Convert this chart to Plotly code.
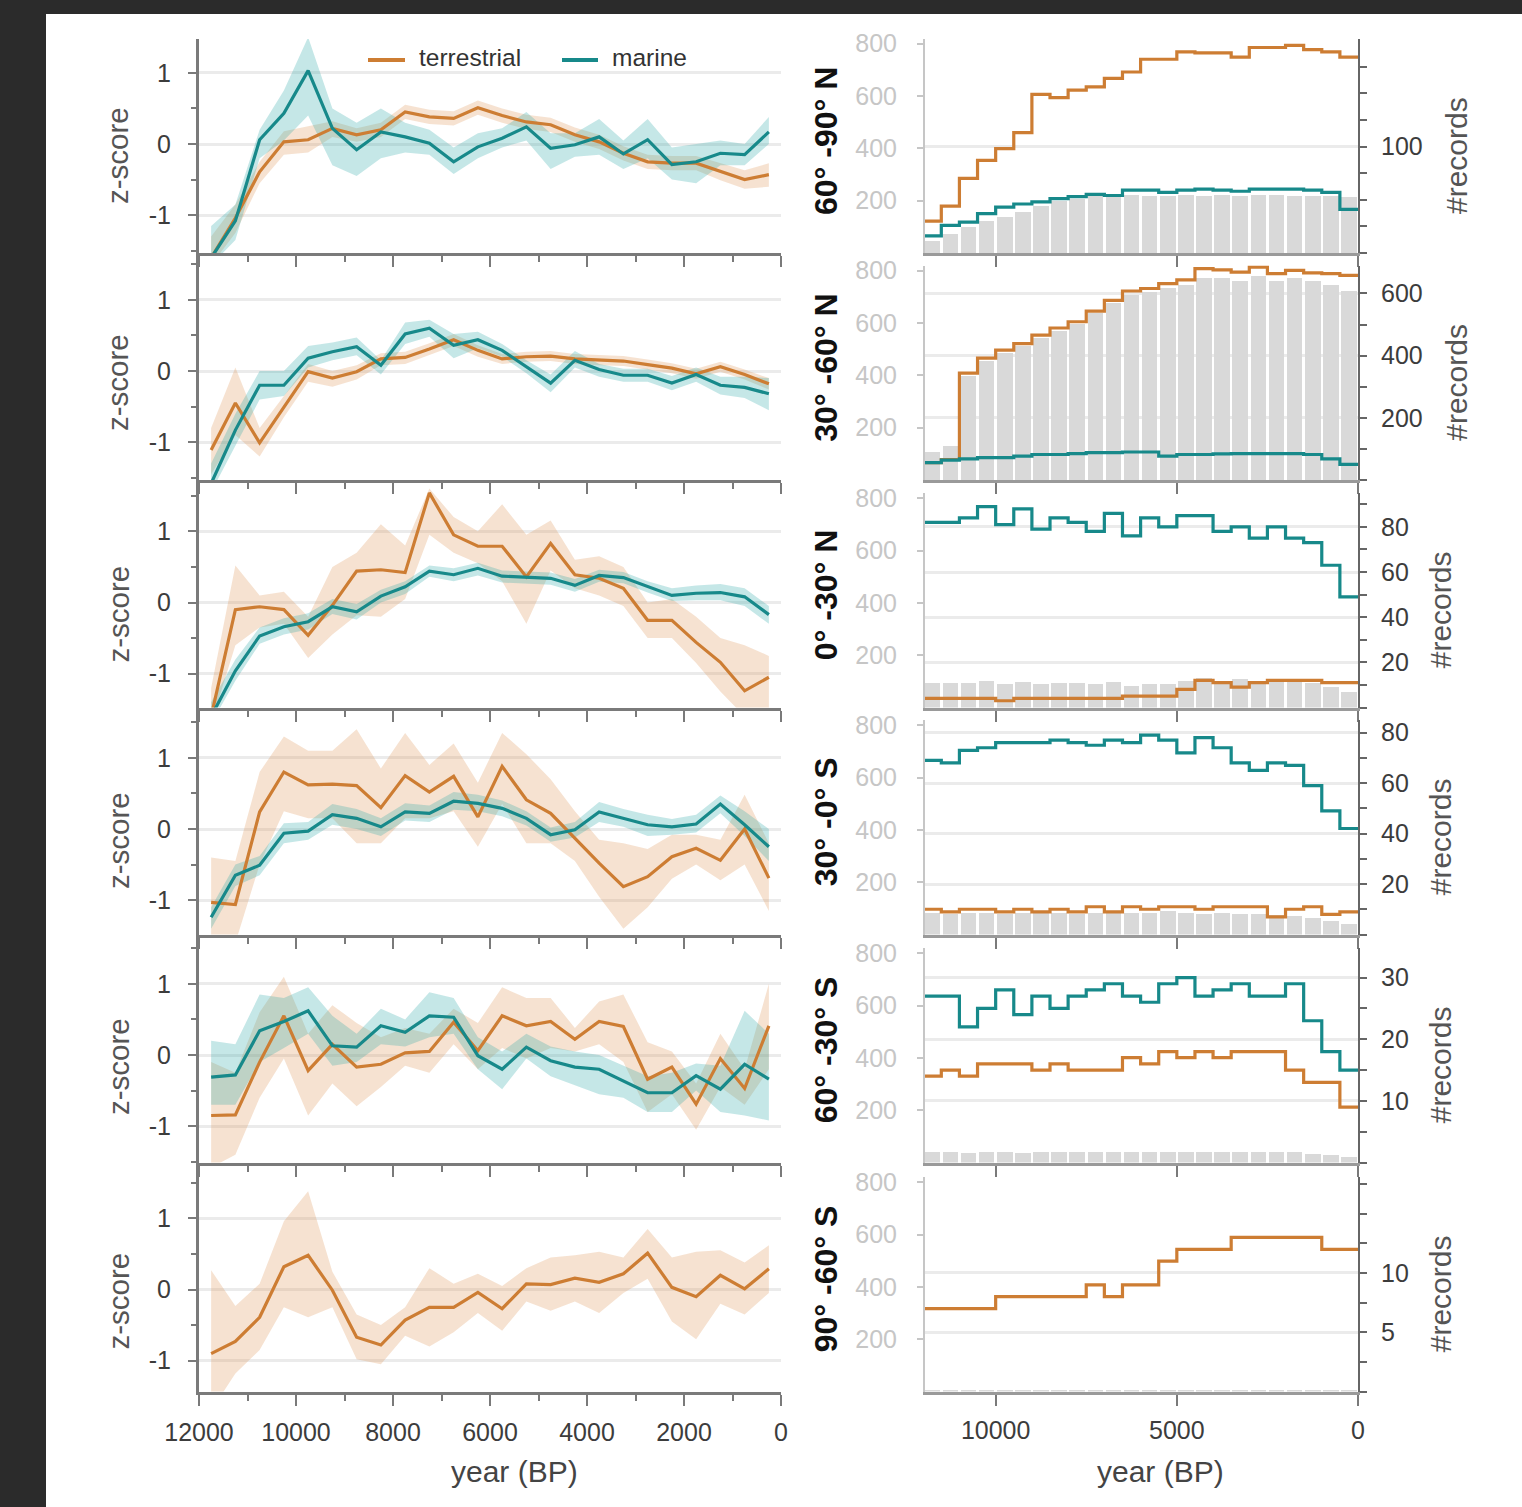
import plotly.graph_objects as go

W, H = 1522, 1507
FONT = "Liberation Sans, Arial, Helvetica, sans-serif"

# ---------------- data ----------------
bin_centers = [11750, 11250, 10750, 10250, 9750, 9250, 8750, 8250, 7750, 7250, 6750, 6250,
               5750, 5250, 4750, 4250, 3750, 3250, 2750, 2250, 1750, 1250, 750, 250]
bin_edges = [12000, 11500, 11000, 10500, 10000, 9500, 9000, 8500, 8000, 7500, 7000, 6500,
             6000, 5500, 5000, 4500, 4000, 3500, 3000, 2500, 2000, 1500, 1000, 500, 0]

region_labels = ["60° -90° N", "30° -60° N", "0° -30° N", "30° -0° S", "60° -30° S", "90° -60° S"]
series_names = ["terrestrial", "marine"]

left_xticks = [12000, 10000, 8000, 6000, 4000, 2000, 0]
left_xminor = [11000, 9000, 7000, 5000, 3000, 1000]
z_ticks = [-1, 0, 1]
z_minor = [-1.5, -0.5, 0.5, 1.5]
right_xticks = [10000, 5000, 0]
bar_axis_ticks = [200, 400, 600, 800]
count_ticks = [[100], [200, 400, 600], [20, 40, 60, 80], [20, 40, 60, 80], [10, 20, 30], [5, 10]]
count_minor = [[0, 25, 50, 75, 125, 150, 175], [0, 100, 300, 500], [0, 10, 30, 50, 70, 90],
               [0, 10, 30, 50, 70], [0, 5, 15, 25], [0, 2.5, 7.5, 12.5, 15, 17.5]]
count_max = [201, 690, 95, 85, 34.8, 18.1]

# z-scores (terrestrial = t, marine = m), with band limits
t1 = [-1.60, -1.04, -0.39, 0.03, 0.06, 0.22, 0.13, 0.20, 0.45, 0.38, 0.36, 0.51, 0.40, 0.31, 0.27, 0.13, 0.03, -0.13, -0.25, -0.27, -0.27, -0.39, -0.50, -0.43]
t1_hi = [-1.30, -0.85, -0.25, 0.18, 0.25, 0.32, 0.22, 0.30, 0.55, 0.48, 0.46, 0.61, 0.50, 0.41, 0.37, 0.23, 0.13, -0.03, -0.15, -0.17, -0.17, -0.27, -0.37, -0.27]
t1_lo = [-1.70, -1.25, -0.55, -0.15, -0.12, 0.10, 0.03, 0.10, 0.35, 0.28, 0.26, 0.41, 0.30, 0.21, 0.17, 0.03, -0.07, -0.23, -0.35, -0.37, -0.37, -0.51, -0.63, -0.60]
m1 = [-1.60, -1.08, 0.06, 0.43, 1.03, 0.22, -0.08, 0.17, 0.10, 0.01, -0.25, -0.04, 0.08, 0.24, -0.06, -0.01, 0.10, -0.14, 0.06, -0.29, -0.25, -0.13, -0.15, 0.17]
m1_hi = [-1.15, -0.85, 0.20, 0.75, 1.50, 0.50, 0.30, 0.50, 0.30, 0.20, -0.05, 0.15, 0.22, 0.45, 0.15, 0.15, 0.35, 0.05, 0.35, -0.05, 0.00, 0.05, 0.00, 0.38]
m1_lo = [-1.70, -1.35, -0.20, 0.05, 0.40, -0.30, -0.45, -0.20, -0.12, -0.15, -0.42, -0.20, -0.05, 0.05, -0.35, -0.18, -0.15, -0.35, -0.20, -0.50, -0.55, -0.30, -0.30, 0.00]

t2 = [-1.11, -0.45, -1.01, -0.50, -0.01, -0.10, -0.01, 0.17, 0.19, 0.31, 0.44, 0.29, 0.17, 0.20, 0.21, 0.17, 0.15, 0.14, 0.09, 0.04, -0.04, 0.06, -0.05, -0.18]
t2_hi = [-0.80, 0.05, -0.80, -0.35, 0.10, 0.00, 0.08, 0.25, 0.27, 0.39, 0.52, 0.36, 0.24, 0.27, 0.28, 0.24, 0.22, 0.21, 0.16, 0.11, 0.03, 0.13, 0.02, -0.10]
t2_lo = [-1.45, -0.90, -1.20, -0.65, -0.15, -0.22, -0.12, 0.08, 0.10, 0.22, 0.35, 0.20, 0.10, 0.13, 0.14, 0.10, 0.08, 0.07, 0.02, -0.03, -0.11, -0.01, -0.12, -0.26]
m2 = [-1.58, -0.83, -0.20, -0.20, 0.18, 0.27, 0.34, 0.08, 0.52, 0.60, 0.36, 0.44, 0.29, 0.06, -0.17, 0.15, 0.02, -0.06, -0.06, -0.17, -0.05, -0.20, -0.23, -0.32]
m2_hi = [-1.30, -0.60, 0.00, 0.00, 0.35, 0.40, 0.47, 0.15, 0.68, 0.72, 0.52, 0.55, 0.38, 0.15, -0.05, 0.28, 0.10, 0.03, 0.03, -0.07, 0.05, -0.08, -0.08, -0.10]
m2_lo = [-1.70, -1.05, -0.40, -0.35, 0.05, 0.15, 0.22, -0.05, 0.38, 0.48, 0.18, 0.32, 0.20, -0.03, -0.30, 0.05, -0.08, -0.15, -0.15, -0.27, -0.15, -0.33, -0.38, -0.55]

t3 = [-1.60, -0.10, -0.06, -0.10, -0.46, -0.04, 0.44, 0.46, 0.42, 1.54, 0.95, 0.79, 0.79, 0.36, 0.83, 0.39, 0.34, 0.20, -0.25, -0.25, -0.56, -0.84, -1.24, -1.05]
t3_hi = [-1.20, 0.52, 0.10, 0.15, -0.20, 0.50, 0.70, 1.10, 0.80, 1.60, 1.20, 1.00, 1.38, 0.95, 1.15, 0.60, 0.65, 0.50, 0.00, 0.05, -0.20, -0.50, -0.60, -0.75]
t3_lo = [-1.70, -0.60, -0.35, -0.30, -0.78, -0.45, -0.18, -0.20, 0.05, 0.95, 0.70, 0.55, 0.30, -0.30, 0.45, 0.20, 0.10, -0.05, -0.50, -0.50, -0.85, -1.25, -1.60, -1.50]
m3 = [-1.60, -0.96, -0.47, -0.34, -0.27, -0.06, -0.13, 0.09, 0.22, 0.44, 0.39, 0.48, 0.37, 0.36, 0.34, 0.24, 0.38, 0.35, 0.22, 0.10, 0.13, 0.14, 0.08, -0.17]
m3_hi = [-1.40, -0.80, -0.35, -0.22, -0.15, 0.05, -0.02, 0.18, 0.30, 0.52, 0.48, 0.56, 0.45, 0.44, 0.42, 0.33, 0.46, 0.43, 0.30, 0.20, 0.24, 0.26, 0.20, -0.05]
m3_lo = [-1.70, -1.10, -0.58, -0.45, -0.38, -0.16, -0.24, 0.00, 0.12, 0.36, 0.30, 0.38, 0.28, 0.27, 0.25, 0.15, 0.29, 0.27, 0.14, 0.02, 0.03, 0.03, -0.05, -0.30]

t4 = [-1.03, -1.06, 0.24, 0.80, 0.62, 0.63, 0.61, 0.30, 0.75, 0.52, 0.74, 0.17, 0.88, 0.41, 0.22, -0.13, -0.48, -0.81, -0.67, -0.39, -0.27, -0.44, 0.00, -0.69]
t4_hi = [-0.40, -0.45, 0.80, 1.30, 1.10, 1.10, 1.40, 0.85, 1.35, 0.90, 1.20, 0.65, 1.35, 1.05, 0.70, 0.25, -0.15, -0.20, -0.28, -0.08, -0.08, -0.15, 0.48, -0.20]
t4_lo = [-1.60, -1.60, -0.50, 0.25, 0.15, 0.15, -0.20, -0.20, 0.15, 0.15, 0.25, -0.25, 0.35, -0.20, -0.20, -0.45, -0.95, -1.40, -1.10, -0.70, -0.50, -0.72, -0.50, -1.15]
m4 = [-1.24, -0.65, -0.51, -0.06, -0.03, 0.20, 0.15, 0.03, 0.24, 0.22, 0.39, 0.36, 0.29, 0.15, -0.08, -0.01, 0.24, 0.15, 0.06, 0.03, 0.07, 0.35, 0.06, -0.25]
m4_hi = [-1.10, -0.50, -0.38, 0.08, 0.10, 0.35, 0.28, 0.15, 0.36, 0.33, 0.52, 0.48, 0.40, 0.25, 0.02, 0.10, 0.38, 0.28, 0.20, 0.14, 0.20, 0.47, 0.25, 0.00]
m4_lo = [-1.40, -0.80, -0.65, -0.20, -0.15, 0.06, 0.00, -0.10, 0.12, 0.10, 0.27, 0.25, 0.18, 0.05, -0.18, -0.12, 0.10, 0.03, -0.10, -0.08, -0.05, 0.22, -0.10, -0.45]

t5 = [-0.85, -0.84, -0.10, 0.55, -0.22, 0.15, -0.17, -0.13, 0.03, 0.05, 0.46, 0.06, 0.55, 0.41, 0.47, 0.22, 0.47, 0.40, -0.34, -0.17, -0.69, -0.05, -0.47, 0.41]
t5_hi = [-0.10, -0.25, 0.60, 1.10, 0.30, 0.70, 0.45, 0.25, 0.38, 0.30, 0.65, 0.45, 0.95, 0.80, 0.80, 0.38, 0.75, 0.85, 0.18, 0.05, -0.40, 0.30, -0.20, 1.00]
t5_lo = [-1.58, -1.40, -0.60, -0.05, -0.85, -0.40, -0.72, -0.45, -0.15, -0.25, 0.15, -0.20, 0.10, -0.05, 0.10, 0.05, 0.15, -0.10, -0.80, -0.55, -1.05, -0.45, -0.70, -0.20]
m5 = [-0.31, -0.28, 0.34, 0.47, 0.62, 0.13, 0.11, 0.41, 0.32, 0.55, 0.53, -0.01, -0.20, 0.11, -0.08, -0.17, -0.20, -0.36, -0.53, -0.53, -0.29, -0.48, -0.13, -0.34]
m5_hi = [0.20, 0.15, 0.85, 0.80, 0.95, 0.55, 0.30, 0.65, 0.50, 0.88, 0.80, 0.25, 0.05, 0.30, 0.12, 0.05, 0.00, -0.15, -0.30, -0.25, -0.12, -0.15, 0.62, 0.30]
m5_lo = [-0.70, -0.70, -0.10, 0.10, 0.30, -0.15, -0.10, 0.15, 0.12, 0.25, 0.30, -0.20, -0.48, -0.05, -0.30, -0.42, -0.55, -0.60, -0.80, -0.80, -0.50, -0.80, -0.85, -0.92]

t6 = [-0.90, -0.73, -0.39, 0.32, 0.48, -0.01, -0.67, -0.78, -0.43, -0.25, -0.25, -0.04, -0.27, 0.08, 0.07, 0.16, 0.10, 0.22, 0.51, 0.03, -0.10, 0.20, 0.01, 0.29]
t6_hi = [0.27, -0.23, 0.08, 0.96, 1.38, 0.25, -0.35, -0.50, -0.25, 0.30, 0.08, 0.22, 0.05, 0.30, 0.45, 0.48, 0.53, 0.45, 0.85, 0.45, 0.53, 0.55, 0.38, 0.62]
t6_lo = [-1.70, -1.18, -0.85, -0.25, -0.39, -0.25, -0.98, -1.05, -0.65, -0.80, -0.60, -0.33, -0.58, -0.17, -0.30, -0.17, -0.33, -0.05, 0.15, -0.45, -0.70, -0.20, -0.35, -0.05]

# record counts per 500-yr bin: bars (left axis), terrestrial / marine (right axis)
r1_bars = [47, 73, 98, 124, 136, 156, 181, 200, 206, 219, 219, 221, 219, 219, 221, 219, 221, 219, 221, 221, 219, 219, 217, 215]
r1_terr = [30, 44, 70, 87, 98, 113, 149, 146, 153, 156, 164, 170, 182, 182, 189, 188, 188, 184, 193, 193, 195, 191, 189, 184]
r1_mar = [16, 26, 29, 37, 43, 46, 48, 51, 53, 55, 54, 59, 59, 57, 59, 60, 59, 58, 60, 60, 60, 59, 57, 41]

r2_bars = [110, 130, 398, 455, 487, 513, 545, 570, 600, 641, 679, 711, 721, 736, 749, 775, 775, 762, 781, 762, 775, 762, 749, 723]
r2_terr = [56, 66, 344, 392, 418, 439, 466, 489, 509, 543, 578, 608, 616, 632, 644, 680, 676, 669, 685, 664, 674, 666, 664, 658]
r2_mar = [56, 64, 68, 72, 72, 77, 82, 82, 85, 88, 88, 90, 90, 77, 82, 82, 84, 85, 85, 85, 85, 82, 68, 50]

r3_bars = [94, 94, 94, 103, 90, 96, 90, 94, 94, 90, 96, 84, 90, 90, 103, 112, 103, 109, 103, 103, 103, 94, 77, 58]
r3_terr = [4, 4, 4, 4, 3, 4, 4, 4, 4, 4, 4, 5, 5, 5, 8, 12, 11, 9, 11, 12, 12, 12, 11, 11]
r3_mar = [82, 82, 84, 89, 81, 88, 79, 84, 82, 78, 86, 76, 84, 80, 85, 85, 78, 80, 75, 80, 75, 73, 63, 49]

r4_bars = [84, 80, 84, 84, 80, 84, 84, 84, 80, 84, 88, 84, 84, 88, 84, 80, 84, 80, 78, 74, 72, 62, 50, 40]
r4_terr = [10, 9, 10, 10, 9, 10, 9, 10, 9, 11, 9, 11, 10, 11, 11, 10, 11, 11, 11, 7, 10, 11, 8, 9]
r4_mar = [69, 68, 73, 74, 76, 76, 76, 77, 76, 75, 77, 76, 79, 77, 72, 78, 74, 68, 65, 68, 67, 59, 49, 42]

r5_bars = [40, 40, 36, 40, 42, 38, 40, 40, 40, 40, 42, 40, 40, 42, 40, 40, 40, 40, 40, 40, 40, 32, 28, 22]
r5_terr = [14, 15, 14, 16, 16, 16, 15, 16, 15, 15, 15, 17, 16, 18, 17, 18, 17, 18, 18, 18, 15, 13, 13, 9]
r5_mar = [27, 27, 22, 25, 28, 24, 27, 25, 27, 28, 29, 27, 26, 29, 30, 27, 28, 29, 27, 27, 29, 23, 18, 15]

r6_bars = [6, 6, 6, 6, 6, 6, 6, 6, 6, 6, 6, 6, 6, 6, 6, 6, 6, 6, 6, 6, 6, 6, 5, 5]
r6_terr = [7, 7, 7, 7, 8, 8, 8, 8, 8, 9, 8, 9, 9, 11, 12, 12, 12, 13, 13, 13, 13, 13, 12, 12]

# ---------------- styling / geometry ----------------
ORANGE = "#cd7d33"
TEAL = "#17898a"
ORANGE_FILL = "rgba(222,150,90,0.28)"
TEAL_FILL = "rgba(40,165,165,0.27)"
BAR = "#d9d9d9"
GRID = "#ebebeb"
AX = "#7a7a7a"
TXT = "#3c3c3c"
LIGHT = "#c6c6c6"

L_X0, L_X1 = 199, 781
R_X0, R_X1 = 925, 1358
bottoms = [253, 480, 707.5, 934.5, 1162.5, 1391.5]
left_tops = [39, 253, 480, 707.5, 934.5, 1162.5]
zeros = [144, 371, 602.5, 829, 1055, 1289.5]
UNIT = 71.2
right_tops = [39, 265.5, 493, 720, 948, 1177]
BAR_PX = 0.2616

left_sets = [
    (t1, t1_lo, t1_hi, m1, m1_lo, m1_hi),
    (t2, t2_lo, t2_hi, m2, m2_lo, m2_hi),
    (t3, t3_lo, t3_hi, m3, m3_lo, m3_hi),
    (t4, t4_lo, t4_hi, m4, m4_lo, m4_hi),
    (t5, t5_lo, t5_hi, m5, m5_lo, m5_hi),
    (t6, t6_lo, t6_hi, None, None, None),
]
right_sets = [
    (r1_bars, r1_terr, r1_mar),
    (r2_bars, r2_terr, r2_mar),
    (r3_bars, r3_terr, r3_mar),
    (r4_bars, r4_terr, r4_mar),
    (r5_bars, r5_terr, r5_mar),
    (r6_bars, r6_terr, None),
]


def fx(px):
    return px / W


def fy(py):
    return 1 - py / H


fig = go.Figure()

for k in range(6):
    n = k + 1
    xl, yl = f"x{n}", f"y{n}"
    xr, ybar, ycnt = f"x{n + 6}", f"y{n + 6}", f"y{n + 12}"
    t, tlo, thi, m, mlo, mhi = left_sets[k]
    band_x = bin_centers + bin_centers[::-1]
    fig.add_trace(go.Scatter(x=band_x, y=thi + tlo[::-1], fill="toself", fillcolor=ORANGE_FILL,
                             mode="lines", line=dict(width=0), xaxis=xl, yaxis=yl,
                             hoverinfo="skip", showlegend=False))
    if m is not None:
        fig.add_trace(go.Scatter(x=band_x, y=mhi + mlo[::-1], fill="toself", fillcolor=TEAL_FILL,
                                 mode="lines", line=dict(width=0), xaxis=xl, yaxis=yl,
                                 hoverinfo="skip", showlegend=False))
    fig.add_trace(go.Scatter(x=bin_centers, y=t, mode="lines", name=series_names[0],
                             line=dict(color=ORANGE, width=3.2), xaxis=xl, yaxis=yl, showlegend=False))
    if m is not None:
        fig.add_trace(go.Scatter(x=bin_centers, y=m, mode="lines", name=series_names[1],
                                 line=dict(color=TEAL, width=3.2), xaxis=xl, yaxis=yl, showlegend=False))

    bars, terr, mar = right_sets[k]
    fig.add_trace(go.Bar(x=bin_centers, y=bars, width=430, marker=dict(color=BAR, line=dict(width=0)),
                         xaxis=xr, yaxis=ybar, showlegend=False, name="records"))
    fig.add_trace(go.Scatter(x=bin_edges, y=terr + [terr[-1]], mode="lines", name=series_names[0],
                             line=dict(color=ORANGE, width=3.2, shape="hv"), xaxis=xr, yaxis=ycnt,
                             showlegend=False))
    if mar is not None:
        fig.add_trace(go.Scatter(x=bin_edges, y=mar + [mar[-1]], mode="lines", name=series_names[1],
                                 line=dict(color=TEAL, width=3.2, shape="hv"), xaxis=xr, yaxis=ycnt,
                                 showlegend=False))

layout = {}
for k in range(6):
    n = k + 1
    s = "" if n == 1 else str(n)
    top, bot = left_tops[k], bottoms[k]
    zmin = -(bot - zeros[k]) / UNIT
    zmax = (zeros[k] - top) / UNIT
    layout[f"xaxis{s}"] = dict(
        domain=[fx(L_X0), fx(L_X1)], range=[12000, 0], anchor=f"y{n}", automargin=False,
        showline=True, linecolor=AX, linewidth=3, ticks="outside", tickmode="array",
        tickvals=left_xticks, ticktext=[str(v) for v in left_xticks],
        ticklen=11, tickwidth=2, tickcolor=AX,
        minor=dict(tickmode="array", tickvals=left_xminor, ticks="outside", ticklen=6,
                   tickwidth=2, tickcolor=AX, showgrid=False),
        showticklabels=(k == 5), tickfont=dict(family=FONT, size=25, color=TXT),
        ticklabelstandoff=5, showgrid=False, zeroline=False, fixedrange=True)
    layout[f"yaxis{s}"] = dict(
        domain=[fy(bot), fy(top)], range=[zmin, zmax], anchor=f"x{n}", automargin=False,
        showline=True, linecolor=AX, linewidth=3, ticks="outside", tickmode="array",
        tickvals=z_ticks, ticktext=[str(v) for v in z_ticks], ticklen=8, tickwidth=2, tickcolor=AX,
        minor=dict(tickmode="array", tickvals=z_minor, ticks="outside", ticklen=5,
                   tickwidth=2, tickcolor=AX, showgrid=False),
        showgrid=True, gridcolor=GRID, gridwidth=2.5, zeroline=False,
        tickfont=dict(family=FONT, size=25, color=TXT), ticklabelstandoff=12, fixedrange=True)

    # right column
    rtop = right_tops[k]
    nb = n + 6
    nc = n + 12
    layout[f"xaxis{nb}"] = dict(
        domain=[fx(R_X0), fx(R_X1)], range=[11950, 0], anchor=f"y{nb}", automargin=False,
        showline=True, linecolor="#9a9a9a", linewidth=3, ticks="outside", tickmode="array",
        tickvals=right_xticks, ticktext=[str(v) for v in right_xticks],
        ticklen=11, tickwidth=2, tickcolor=AX,
        showticklabels=(k == 5), tickfont=dict(family=FONT, size=25, color=TXT),
        ticklabelstandoff=3, showgrid=False, zeroline=False, fixedrange=True)
    layout[f"yaxis{nb}"] = dict(
        domain=[fy(bot), fy(rtop)], range=[0, (bot - rtop) / BAR_PX], anchor=f"x{nb}", automargin=False,
        showline=True, linecolor=LIGHT, linewidth=2, ticks="outside", tickmode="array",
        tickvals=bar_axis_ticks, ticktext=[str(v) for v in bar_axis_ticks],
        ticklen=6, tickwidth=2, tickcolor=LIGHT,
        showgrid=False, zeroline=False, tickfont=dict(family=FONT, size=25, color=LIGHT),
        ticklabelstandoff=15, fixedrange=True)
    layout[f"yaxis{nc}"] = dict(
        overlaying=f"y{nb}", side="right", anchor=f"x{nb}", range=[0, count_max[k]], automargin=False,
        showline=True, linecolor="#666666", linewidth=2, ticks="outside", tickmode="array",
        tickvals=count_ticks[k], ticktext=[str(v) for v in count_ticks[k]],
        ticklen=7, tickwidth=2, tickcolor="#666666",
        minor=dict(tickmode="array", tickvals=count_minor[k], ticks="outside", ticklen=7,
                   tickwidth=2, tickcolor="#666666", showgrid=False),
        showgrid=True, gridcolor=GRID, gridwidth=2.5, zeroline=False,
        tickfont=dict(family=FONT, size=25, color=TXT), ticklabelstandoff=9, fixedrange=True)

annotations = []
shapes = [dict(type="rect", xref="paper", yref="paper", x0=fx(46), x1=1, y0=0, y1=fy(14),
               fillcolor="white", line=dict(width=0), layer="below")]

# legend
shapes.append(dict(type="line", xref="paper", yref="paper", x0=fx(368), x1=fx(405), y0=fy(60), y1=fy(60),
                   line=dict(color=ORANGE, width=4)))
shapes.append(dict(type="line", xref="paper", yref="paper", x0=fx(562), x1=fx(598), y0=fy(60), y1=fy(60),
                   line=dict(color=TEAL, width=4)))
annotations.append(dict(text=series_names[0], x=fx(417), y=fy(58), xref="paper", yref="paper",
                        xanchor="left", yanchor="middle", showarrow=False,
                        font=dict(family=FONT, size=24.5, color="#333")))
annotations.append(dict(text=series_names[1], x=fx(610), y=fy(58), xref="paper", yref="paper",
                        xanchor="left", yanchor="middle", showarrow=False,
                        font=dict(family=FONT, size=24.5, color="#333")))

for k in range(6):
    annotations.append(dict(text="z-score", x=fx(118), y=fy(zeros[k] + 12), xref="paper", yref="paper",
                            textangle=-90, showarrow=False, xanchor="center", yanchor="middle",
                            font=dict(family=FONT, size=29.5, color="#555")))
    rc = (right_tops[k] + bottoms[k]) / 2
    annotations.append(dict(text="<b>" + region_labels[k] + "</b>", x=fx(826), y=fy(rc - 5),
                            xref="paper", yref="paper",
                            textangle=-90, showarrow=False, xanchor="center", yanchor="middle",
                            font=dict(family=FONT, size=32, color="#111")))
    rx = 1457 if k < 2 else 1440
    annotations.append(dict(text="#records", x=fx(rx), y=fy(rc + 10), xref="paper", yref="paper",
                            textangle=-90, showarrow=False, xanchor="center", yanchor="middle",
                            font=dict(family=FONT, size=30, color="#555")))

annotations.append(dict(text="year (BP)", x=fx(514), y=fy(1471), xref="paper", yref="paper",
                        showarrow=False, xanchor="center", yanchor="middle",
                        font=dict(family=FONT, size=30, color="#444")))
annotations.append(dict(text="year (BP)", x=fx(1160), y=fy(1471), xref="paper", yref="paper",
                        showarrow=False, xanchor="center", yanchor="middle",
                        font=dict(family=FONT, size=30, color="#444")))

fig.update_layout(
    width=W, height=H, margin=dict(l=0, r=0, t=0, b=0, pad=0, autoexpand=False),
    paper_bgcolor="#2b2b2b", plot_bgcolor="rgba(0,0,0,0)",
    font=dict(family=FONT, color=TXT), showlegend=False, bargap=0,
    annotations=annotations, shapes=shapes, **layout)

fig.write_html("out.html", config={"displayModeBar": False, "responsive": False},
               post_script="document.body.style.margin='0';document.body.style.overflow='hidden';")
